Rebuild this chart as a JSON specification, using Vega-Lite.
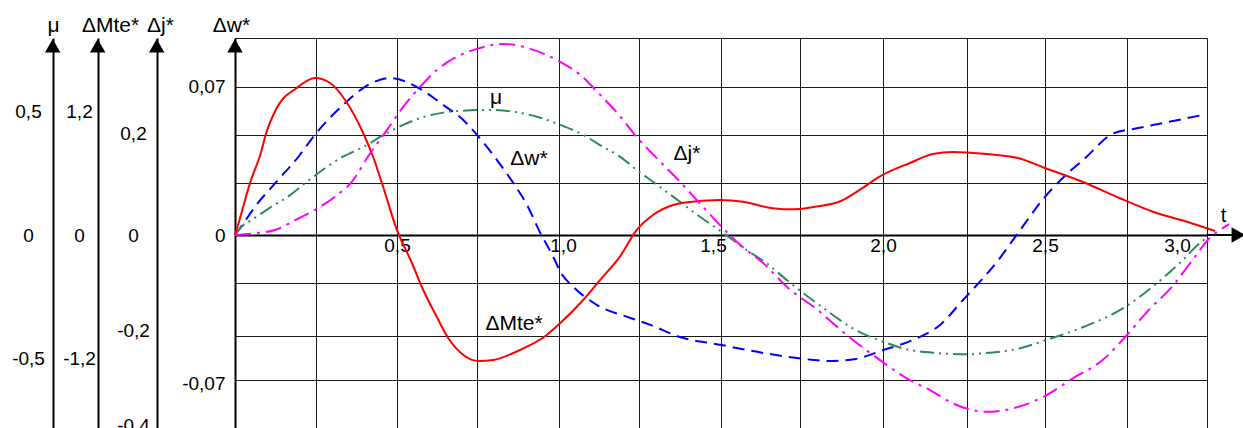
{
  "$schema": "https://vega.github.io/schema/vega-lite/v6.json",
  "width": 972,
  "height": 394,
  "autosize": {"type": "none"},
  "padding": {"left": 235, "top": 38, "right": 36, "bottom": 0},
  "background": "white",
  "config": {
    "font": "Liberation Sans",
    "view": {"stroke": null},
    "axis": {
      "labelFont": "Liberation Sans", "titleFont": "Liberation Sans",
      "labelFontSize": 19, "titleFontSize": 21,
      "labelColor": "#000", "titleColor": "#000", "titleFontWeight": "normal",
      "ticks": false, "domainColor": "#000", "domainWidth": 2,
      "gridColor": "#1a1a1a", "gridWidth": 1, "gridOpacity": 1,
      "labelOverlap": false, "labelFlush": false
    }
  },
  "datasets": {
    "curves": [
      {"series": "dMte", "t": 0, "value": 0},
      {"series": "dMte", "t": 0.0093, "value": 0.097},
      {"series": "dMte", "t": 0.0463, "value": 0.506},
      {"series": "dMte", "t": 0.0824, "value": 0.828},
      {"series": "dMte", "t": 0.0927, "value": 0.955},
      {"series": "dMte", "t": 0.1289, "value": 1.238},
      {"series": "dMte", "t": 0.1907, "value": 1.433},
      {"series": "dMte", "t": 0.2472, "value": 1.53},
      {"series": "dMte", "t": 0.2936, "value": 1.481},
      {"series": "dMte", "t": 0.3399, "value": 1.316},
      {"series": "dMte", "t": 0.3956, "value": 0.994},
      {"series": "dMte", "t": 0.4264, "value": 0.76},
      {"series": "dMte", "t": 0.4573, "value": 0.468},
      {"series": "dMte", "t": 0.4997, "value": 0.049},
      {"series": "dMte", "t": 0.546, "value": -0.273},
      {"series": "dMte", "t": 0.581, "value": -0.536},
      {"series": "dMte", "t": 0.623, "value": -0.799},
      {"series": "dMte", "t": 0.658, "value": -1.004},
      {"series": "dMte", "t": 0.705, "value": -1.169},
      {"series": "dMte", "t": 0.751, "value": -1.228},
      {"series": "dMte", "t": 0.797, "value": -1.218},
      {"series": "dMte", "t": 0.859, "value": -1.15},
      {"series": "dMte", "t": 0.912, "value": -1.072},
      {"series": "dMte", "t": 0.958, "value": -0.984},
      {"series": "dMte", "t": 1.004, "value": -0.858},
      {"series": "dMte", "t": 1.066, "value": -0.663},
      {"series": "dMte", "t": 1.1265, "value": -0.439},
      {"series": "dMte", "t": 1.188, "value": -0.211},
      {"series": "dMte", "t": 1.24, "value": 0.049},
      {"series": "dMte", "t": 1.29, "value": 0.195},
      {"series": "dMte", "t": 1.352, "value": 0.292},
      {"series": "dMte", "t": 1.383, "value": 0.315},
      {"series": "dMte", "t": 1.497, "value": 0.341},
      {"series": "dMte", "t": 1.568, "value": 0.325},
      {"series": "dMte", "t": 1.641, "value": 0.27},
      {"series": "dMte", "t": 1.703, "value": 0.25},
      {"series": "dMte", "t": 1.744, "value": 0.253},
      {"series": "dMte", "t": 1.786, "value": 0.273},
      {"series": "dMte", "t": 1.87, "value": 0.331},
      {"series": "dMte", "t": 1.928, "value": 0.439},
      {"series": "dMte", "t": 1.987, "value": 0.565},
      {"series": "dMte", "t": 2.083, "value": 0.702},
      {"series": "dMte", "t": 2.154, "value": 0.789},
      {"series": "dMte", "t": 2.214, "value": 0.809},
      {"series": "dMte", "t": 2.321, "value": 0.789},
      {"series": "dMte", "t": 2.417, "value": 0.75},
      {"series": "dMte", "t": 2.5, "value": 0.653},
      {"series": "dMte", "t": 2.617, "value": 0.517},
      {"series": "dMte", "t": 2.731, "value": 0.358},
      {"series": "dMte", "t": 2.833, "value": 0.227},
      {"series": "dMte", "t": 2.938, "value": 0.129},
      {"series": "dMte", "t": 3.025, "value": 0.039},

      {"series": "dw", "t": 0, "value": 0},
      {"series": "dw", "t": 0.0155, "value": 0.0032},
      {"series": "dw", "t": 0.0618, "value": 0.0134},
      {"series": "dw", "t": 0.133, "value": 0.0261},
      {"series": "dw", "t": 0.2, "value": 0.0379},
      {"series": "dw", "t": 0.241, "value": 0.0464},
      {"series": "dw", "t": 0.3452, "value": 0.0632},
      {"series": "dw", "t": 0.3956, "value": 0.0696},
      {"series": "dw", "t": 0.479, "value": 0.0744},
      {"series": "dw", "t": 0.5615, "value": 0.0701},
      {"series": "dw", "t": 0.6428, "value": 0.0616},
      {"series": "dw", "t": 0.7046, "value": 0.0545},
      {"series": "dw", "t": 0.747, "value": 0.0474},
      {"series": "dw", "t": 0.8087, "value": 0.0355},
      {"series": "dw", "t": 0.859, "value": 0.0246},
      {"series": "dw", "t": 0.9014, "value": 0.0142},
      {"series": "dw", "t": 0.9425, "value": 0.0009},
      {"series": "dw", "t": 0.9827, "value": -0.0104},
      {"series": "dw", "t": 1.0043, "value": -0.0175},
      {"series": "dw", "t": 1.0445, "value": -0.0246},
      {"series": "dw", "t": 1.1177, "value": -0.0332},
      {"series": "dw", "t": 1.2206, "value": -0.0393},
      {"series": "dw", "t": 1.2824, "value": -0.0426},
      {"series": "dw", "t": 1.3705, "value": -0.0482},
      {"series": "dw", "t": 1.5012, "value": -0.0521},
      {"series": "dw", "t": 1.6317, "value": -0.0559},
      {"series": "dw", "t": 1.7862, "value": -0.0592},
      {"series": "dw", "t": 1.834, "value": -0.0597},
      {"series": "dw", "t": 1.916, "value": -0.0587},
      {"series": "dw", "t": 2.001, "value": -0.0545},
      {"series": "dw", "t": 2.093, "value": -0.0497},
      {"series": "dw", "t": 2.176, "value": -0.0426},
      {"series": "dw", "t": 2.247, "value": -0.0308},
      {"series": "dw", "t": 2.3569, "value": -0.0117},
      {"series": "dw", "t": 2.4166, "value": 0.0009},
      {"series": "dw", "t": 2.5, "value": 0.0181},
      {"series": "dw", "t": 2.5587, "value": 0.0276},
      {"series": "dw", "t": 2.6174, "value": 0.0355},
      {"series": "dw", "t": 2.7132, "value": 0.0483},
      {"series": "dw", "t": 2.772, "value": 0.0502},
      {"series": "dw", "t": 2.833, "value": 0.0521},
      {"series": "dw", "t": 2.988, "value": 0.0569},

      {"series": "mu", "t": 0, "value": 0},
      {"series": "mu", "t": 0.0207, "value": 0.034},
      {"series": "mu", "t": 0.0515, "value": 0.061},
      {"series": "mu", "t": 0.113, "value": 0.115},
      {"series": "mu", "t": 0.17, "value": 0.162},
      {"series": "mu", "t": 0.2213, "value": 0.216},
      {"series": "mu", "t": 0.3333, "value": 0.318},
      {"series": "mu", "t": 0.3956, "value": 0.357},
      {"series": "mu", "t": 0.4688, "value": 0.414},
      {"series": "mu", "t": 0.519, "value": 0.447},
      {"series": "mu", "t": 0.581, "value": 0.479},
      {"series": "mu", "t": 0.643, "value": 0.497},
      {"series": "mu", "t": 0.7046, "value": 0.505},
      {"series": "mu", "t": 0.788, "value": 0.508},
      {"series": "mu", "t": 0.859, "value": 0.501},
      {"series": "mu", "t": 0.932, "value": 0.48},
      {"series": "mu", "t": 1.0043, "value": 0.447},
      {"series": "mu", "t": 1.0754, "value": 0.406},
      {"series": "mu", "t": 1.1265, "value": 0.365},
      {"series": "mu", "t": 1.188, "value": 0.318},
      {"series": "mu", "t": 1.24, "value": 0.264},
      {"series": "mu", "t": 1.29, "value": 0.216},
      {"series": "mu", "t": 1.3735, "value": 0.135},
      {"series": "mu", "t": 1.435, "value": 0.074},
      {"series": "mu", "t": 1.502, "value": 0.013},
      {"series": "mu", "t": 1.579, "value": -0.061},
      {"series": "mu", "t": 1.641, "value": -0.115},
      {"series": "mu", "t": 1.703, "value": -0.183},
      {"series": "mu", "t": 1.8102, "value": -0.291},
      {"series": "mu", "t": 1.916, "value": -0.386},
      {"series": "mu", "t": 2.0, "value": -0.433},
      {"series": "mu", "t": 2.073, "value": -0.464},
      {"series": "mu", "t": 2.154, "value": -0.478},
      {"series": "mu", "t": 2.258, "value": -0.4845},
      {"series": "mu", "t": 2.33, "value": -0.478},
      {"series": "mu", "t": 2.423, "value": -0.46},
      {"series": "mu", "t": 2.505, "value": -0.426},
      {"series": "mu", "t": 2.608, "value": -0.379},
      {"series": "mu", "t": 2.749, "value": -0.291},
      {"series": "mu", "t": 2.832, "value": -0.21},
      {"series": "mu", "t": 2.9157, "value": -0.114},
      {"series": "mu", "t": 2.983, "value": -0.027},
      {"series": "mu", "t": 3.005, "value": -0.007},

      {"series": "dj", "t": 0, "value": 0},
      {"series": "dj", "t": 0.0618, "value": 0.0034},
      {"series": "dj", "t": 0.1236, "value": 0.01},
      {"series": "dj", "t": 0.1854, "value": 0.03},
      {"series": "dj", "t": 0.247, "value": 0.051},
      {"series": "dj", "t": 0.309, "value": 0.078},
      {"series": "dj", "t": 0.3604, "value": 0.108},
      {"series": "dj", "t": 0.4172, "value": 0.166},
      {"series": "dj", "t": 0.4688, "value": 0.213},
      {"series": "dj", "t": 0.519, "value": 0.26},
      {"series": "dj", "t": 0.5717, "value": 0.301},
      {"series": "dj", "t": 0.623, "value": 0.335},
      {"series": "dj", "t": 0.685, "value": 0.362},
      {"series": "dj", "t": 0.747, "value": 0.378},
      {"series": "dj", "t": 0.828, "value": 0.388},
      {"series": "dj", "t": 0.9116, "value": 0.378},
      {"series": "dj", "t": 0.994, "value": 0.355},
      {"series": "dj", "t": 1.066, "value": 0.325},
      {"series": "dj", "t": 1.128, "value": 0.284},
      {"series": "dj", "t": 1.19, "value": 0.24},
      {"series": "dj", "t": 1.2346, "value": 0.203},
      {"series": "dj", "t": 1.3015, "value": 0.156},
      {"series": "dj", "t": 1.3735, "value": 0.108},
      {"series": "dj", "t": 1.435, "value": 0.064},
      {"series": "dj", "t": 1.497, "value": 0.02},
      {"series": "dj", "t": 1.559, "value": -0.02},
      {"series": "dj", "t": 1.63, "value": -0.057},
      {"series": "dj", "t": 1.703, "value": -0.105},
      {"series": "dj", "t": 1.798, "value": -0.152},
      {"series": "dj", "t": 1.8934, "value": -0.206},
      {"series": "dj", "t": 1.9907, "value": -0.254},
      {"series": "dj", "t": 2.0731, "value": -0.291},
      {"series": "dj", "t": 2.145, "value": -0.315},
      {"series": "dj", "t": 2.216, "value": -0.342},
      {"series": "dj", "t": 2.32, "value": -0.359},
      {"series": "dj", "t": 2.401, "value": -0.352},
      {"series": "dj", "t": 2.505, "value": -0.325},
      {"series": "dj", "t": 2.586, "value": -0.291},
      {"series": "dj", "t": 2.6776, "value": -0.254},
      {"series": "dj", "t": 2.749, "value": -0.206},
      {"series": "dj", "t": 2.8205, "value": -0.152},
      {"series": "dj", "t": 2.892, "value": -0.105},
      {"series": "dj", "t": 2.963, "value": -0.044},
      {"series": "dj", "t": 3.008, "value": -0.006},
      {"series": "dj", "t": 3.04, "value": 0.01},
      {"series": "dj", "t": 3.068, "value": 0.022}
    ],
    "notes": [
      {"series": "mu", "label": "μ", "t": 0.8056, "value": 0.534},
      {"series": "dw", "label": "Δw*", "t": 0.9074, "value": 0.0332},
      {"series": "dj", "label": "Δj*", "t": 1.395, "value": 0.1523},
      {"series": "dMte", "label": "ΔMte*", "t": 0.8611, "value": -0.926}
    ],
    "arrows": [
      {"axis": "μ", "t": -0.5627, "value": 0.0897},
      {"axis": "ΔMte*", "t": -0.4238, "value": 0.0897},
      {"axis": "Δj*", "t": -0.2417, "value": 0.0897},
      {"axis": "Δw*", "t": 0.0, "value": 0.0897}
    ],
    "taxis": [
      {"axis": "t", "t": 3.0, "t2": 3.09, "tip": 3.0966, "value": 0}
    ]
  },
  "encoding": {
    "x": {
      "field": "t", "type": "quantitative",
      "scale": {"domain": [0, 3], "nice": false, "zero": false},
      "axis": {
        "orient": "bottom", "offset": -197,
        "values": [0, 0.2491, 0.5, 0.7469, 1, 1.2469, 1.5, 1.7438, 2, 2.2593, 2.5, 2.7531, 3],
        "grid": true,
        "labelExpr": "datum.value > 0.1 && abs(datum.value * 2 - round(datum.value * 2)) < 0.001 ? replace(format(datum.value, '.1f'), '.', ',') : ''",
        "labelPadding": 1,
        "labelOffset": {"condition": [{"test": "datum.value == 3", "value": -30}, {"test": "datum.value == 1.5", "value": -8}, {"test": "datum.value == 1", "value": 4}], "value": 0},
        "title": "t", "titleX": 988, "titleY": -14, "titleAlign": "center",
        "titleBaseline": "alphabetic", "titleAngle": 0, "titleFontSize": 20
      }
    }
  },
  "layer": [
    {
      "encoding": {
        "y": {
          "field": "value", "type": "quantitative",
          "scale": {"domain": [-0.093333, 0.093333], "nice": false, "zero": false},
          "axis": {
            "orient": "left", "offset": 0,
            "values": [-0.06884, -0.04771, -0.02288, 0, 0.02449, 0.04738, 0.07026, 0.093333],
            "grid": true,
            "labelExpr": "abs(abs(datum.value) - 0.07) < 0.003 ? (datum.value > 0 ? '0,07' : '-0,07') : (abs(datum.value) < 0.0001 ? '0' : '')",
            "labelPadding": 10,
            "labelOffset": {"condition": {"test": "datum.value < -0.06", "value": 3}, "value": 0},
            "title": "Δw*", "titleAngle": 0, "titleX": -4, "titleY": -7,
            "titleAlign": "center", "titleBaseline": "alphabetic"
          }
        }
      },
      "layer": [
        {
          "data": {"name": "curves"},
          "transform": [{"filter": "datum.series === 'dw'"}],
          "mark": {"type": "line", "color": "#0000ff", "strokeWidth": 2, "strokeDash": [12, 7], "interpolate": "monotone"}
        },
        {
          "data": {"name": "notes"},
          "transform": [{"filter": "datum.series === 'dw'"}],
          "mark": {"type": "text", "fontSize": 21, "align": "center", "baseline": "alphabetic", "color": "#000"},
          "encoding": {"text": {"field": "label"}}
        },
        {
          "data": {"name": "arrows"},
          "mark": {"type": "point", "shape": "triangle-up", "filled": true, "size": 240, "color": "#000", "opacity": 1}
        },
        {
          "data": {"name": "taxis"},
          "mark": {"type": "rule", "color": "#000", "strokeWidth": 2},
          "encoding": {"x2": {"field": "t2"}}
        },
        {
          "data": {"name": "taxis"},
          "mark": {"type": "point", "shape": "triangle-right", "filled": true, "size": 240, "color": "#000", "opacity": 1},
          "encoding": {"x": {"field": "tip", "type": "quantitative"}}
        }
      ]
    },
    {
      "encoding": {
        "y": {
          "field": "value", "type": "quantitative",
          "scale": {"domain": [-0.8, 0.8], "nice": false, "zero": false},
          "axis": {
            "orient": "left", "offset": 182, "values": [-0.5, 0, 0.5], "grid": false,
            "labelExpr": "replace(toString(datum.value), '.', ',')",
            "labelAlign": "center", "labelPadding": 25,
            "title": "μ", "titleAngle": 0, "titleX": 0, "titleY": -7,
            "titleAlign": "center", "titleBaseline": "alphabetic"
          }
        }
      },
      "layer": [
        {
          "data": {"name": "curves"},
          "transform": [{"filter": "datum.series === 'mu'"}],
          "mark": {"type": "line", "color": "#2e8b57", "strokeWidth": 2, "strokeDash": [14, 5, 2, 5, 2, 5], "interpolate": "monotone"}
        },
        {
          "data": {"name": "notes"},
          "transform": [{"filter": "datum.series === 'mu'"}],
          "mark": {"type": "text", "fontSize": 21, "align": "center", "baseline": "alphabetic", "color": "#000"},
          "encoding": {"text": {"field": "label"}}
        }
      ]
    },
    {
      "encoding": {
        "y": {
          "field": "value", "type": "quantitative",
          "scale": {"domain": [-1.92, 1.92], "nice": false, "zero": false},
          "axis": {
            "orient": "left", "offset": 137, "values": [-1.2, 0, 1.2], "grid": false,
            "labelExpr": "replace(toString(datum.value), '.', ',')",
            "labelAlign": "center", "labelPadding": 19,
            "title": "ΔMte*", "titleAngle": 0, "titleX": 12, "titleY": -7,
            "titleAlign": "center", "titleBaseline": "alphabetic"
          }
        }
      },
      "layer": [
        {
          "data": {"name": "curves"},
          "transform": [{"filter": "datum.series === 'dMte'"}],
          "mark": {"type": "line", "color": "#ff0000", "strokeWidth": 2, "interpolate": "monotone"}
        },
        {
          "data": {"name": "notes"},
          "transform": [{"filter": "datum.series === 'dMte'"}],
          "mark": {"type": "text", "fontSize": 21, "align": "center", "baseline": "alphabetic", "color": "#000"},
          "encoding": {"text": {"field": "label"}}
        }
      ]
    },
    {
      "encoding": {
        "y": {
          "field": "value", "type": "quantitative",
          "scale": {"domain": [-0.4, 0.4], "nice": false, "zero": false},
          "axis": {
            "orient": "left", "offset": 78, "values": [-0.4, -0.2, 0, 0.2], "grid": false,
            "labelExpr": "replace(toString(datum.value), '.', ',')",
            "labelAlign": "center", "labelPadding": 24,
            "labelOffset": {"condition": [{"test": "datum.value < -0.3", "value": -7}, {"test": "datum.value > 0.1", "value": -3}, {"test": "datum.value < -0.1", "value": -3}], "value": 0},
            "title": "Δj*", "titleAngle": 0, "titleX": 3, "titleY": -7,
            "titleAlign": "center", "titleBaseline": "alphabetic"
          }
        }
      },
      "layer": [
        {
          "data": {"name": "curves"},
          "transform": [{"filter": "datum.series === 'dj'"}],
          "mark": {"type": "line", "color": "#ff00ff", "strokeWidth": 2, "strokeDash": [16, 6, 3, 6], "interpolate": "monotone"}
        },
        {
          "data": {"name": "notes"},
          "transform": [{"filter": "datum.series === 'dj'"}],
          "mark": {"type": "text", "fontSize": 21, "align": "center", "baseline": "alphabetic", "color": "#000"},
          "encoding": {"text": {"field": "label"}}
        }
      ]
    }
  ],
  "resolve": {"scale": {"y": "independent"}}
}
